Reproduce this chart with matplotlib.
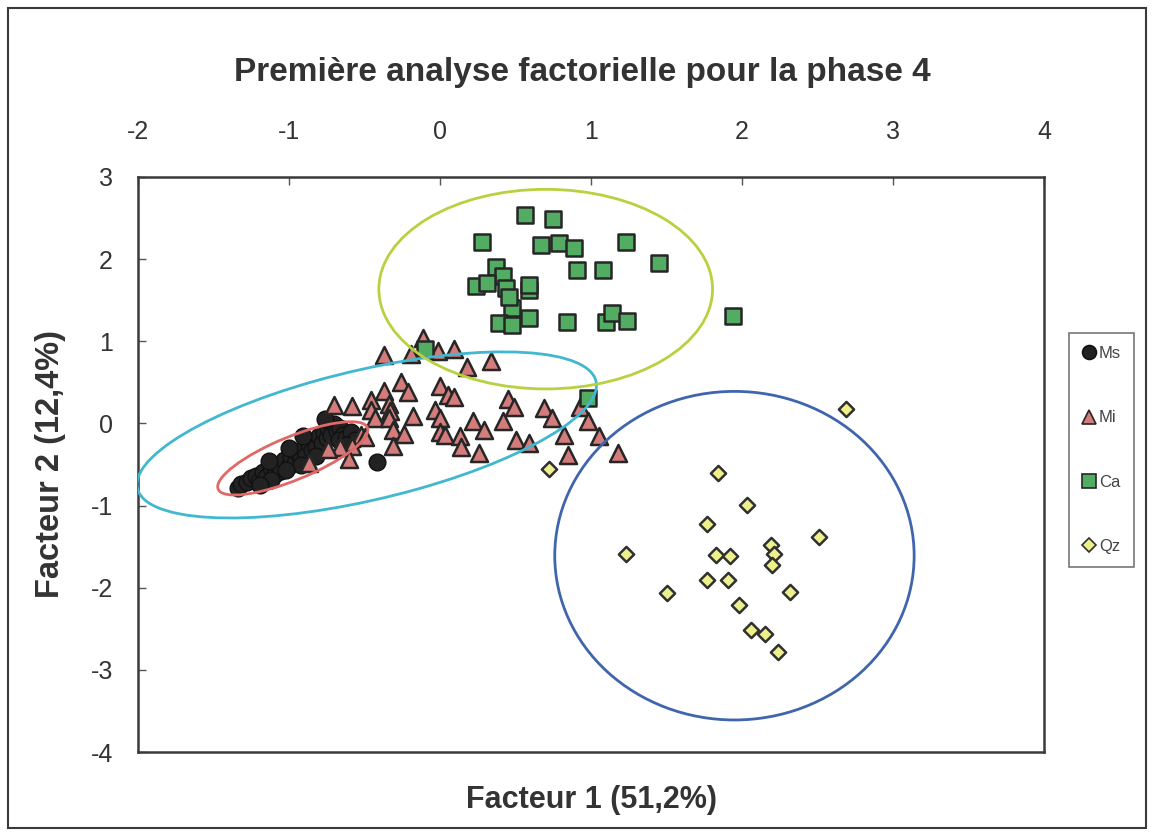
import matplotlib
matplotlib.use("Agg")
import matplotlib.pyplot as plt
from matplotlib.patches import Ellipse, Rectangle
from matplotlib.lines import Line2D

plt.rcParams['font.family'] = ['Liberation Sans', 'DejaVu Sans']

# Factor scores (Facteur 1, Facteur 2) per group
MS_X = [-1.34, -1.32, -1.28, -1.25, -1.22, -1.20, -1.17, -1.15, -1.12, -1.09, -1.07, -1.05,
        -1.03, -1.00, -0.99, -0.96, -0.95, -0.92, -0.91, -0.89, -0.87, -0.85, -0.83, -0.82,
        -0.80, -0.78, -0.77, -0.75, -0.74, -0.72, -0.70, -0.68, -0.76, -0.66, -0.64, -0.67,
        -0.62, -0.82, -0.92, -1.02, -1.12, -1.19, -0.59, -0.56, -0.62, -1.13, -1.00, -0.91, -0.42]
MS_Y = [-0.79, -0.74, -0.71, -0.67, -0.64, -0.70, -0.59, -0.65, -0.54, -0.62, -0.51, -0.58,
        -0.45, -0.52, -0.41, -0.48, -0.35, -0.42, -0.30, -0.39, -0.25, -0.32, -0.20, -0.29,
        -0.15, -0.24, -0.11, -0.18, -0.06, -0.14, -0.01, -0.09, 0.05, -0.06, -0.14, -0.20,
        -0.18, -0.40, -0.51, -0.57, -0.69, -0.75, -0.11, -0.20, -0.26, -0.46, -0.30, -0.15, -0.47]

MI_X = [-0.11, -0.37, -0.19, -0.01, 0.09, 0.18, 0.34, -0.26, -0.21, -0.37, 0.00, 0.05,
        -0.70, -0.58, -0.46, -0.46, -0.34, -0.33, -0.43, -0.34, -0.18, -0.03, 0.00, -0.31,
        -0.24, 0.00, 0.03, 0.13, -0.31, -0.52, -0.58, -0.66, -0.74, -0.87, -0.60, 0.09,
        0.45, 0.49, 0.69, 0.74, 0.22, 0.29, 0.42, 0.14, 0.26, 0.50, 0.59, 0.82, 0.85,
        0.93, 0.98, 1.05, 1.18, -0.50]
MI_Y = [1.04, 0.83, 0.85, 0.88, 0.91, 0.69, 0.76, 0.50, 0.38, 0.39, 0.46, 0.35,
        0.22, 0.21, 0.29, 0.16, 0.24, 0.15, 0.07, 0.07, 0.09, 0.16, 0.07, -0.08,
        -0.13, -0.11, -0.14, -0.15, -0.28, -0.14, -0.28, -0.29, -0.31, -0.48, -0.43, 0.32,
        0.30, 0.20, 0.19, 0.07, 0.03, -0.08, 0.03, -0.29, -0.36, -0.20, -0.24, -0.14, -0.39,
        0.20, 0.03, -0.15, -0.36, -0.17]

CA_X = [0.56, 0.75, 0.28, 0.67, 0.79, 0.89, 1.23, 1.45, 0.37, 0.42, 0.91, 1.08, 0.24, 0.31,
        0.44, 0.59, 0.59, 0.48, 0.46, 0.39, 0.48, 0.59, 0.84, 1.10, 1.14, 1.24, 1.94, -0.10, 0.98]
CA_Y = [2.54, 2.49, 2.21, 2.17, 2.20, 2.13, 2.21, 1.95, 1.91, 1.79, 1.87, 1.87, 1.67, 1.71,
        1.65, 1.63, 1.69, 1.41, 1.54, 1.22, 1.20, 1.28, 1.24, 1.24, 1.34, 1.25, 1.31, 0.91, 0.31]

QZ_X = [2.69, 0.72, 1.84, 2.03, 1.77, 2.51, 2.19, 2.21, 2.20, 1.23, 1.83, 1.92, 1.77, 1.91,
        2.32, 1.50, 1.98, 2.06, 2.15, 2.24]
QZ_Y = [0.18, -0.56, -0.60, -0.99, -1.22, -1.38, -1.48, -1.59, -1.72, -1.59, -1.60, -1.61,
        -1.91, -1.91, -2.05, -2.07, -2.21, -2.52, -2.56, -2.78]

GROUPS = ['Ms', 'Mi', 'Ca', 'Qz']

# Confidence ellipses: centre x, centre y, width, height, angle (data units)
ELL_CX = [-0.975, -0.485, 0.70, 1.95]
ELL_CY = [-0.425, -0.14, 1.635, -1.61]
ELL_W = [1.26, 3.34, 2.21, 2.38]
ELL_H = [0.445, 1.48, 2.43, 4.00]
ELL_ANGLE = [41.0, 27.4, 0.0, 0.0]

X_TICKS = [-2, -1, 0, 1, 2, 3, 4]
Y_TICKS = [-4, -3, -2, -1, 0, 1, 2, 3]

W, H = 1152, 834
fig = plt.figure(figsize=(W / 100, H / 100), dpi=100)
fig.patch.set_facecolor('white')

# outer chart border
fig.patches.append(Rectangle((8 / W, 6 / H), 1138 / W, 820 / H, transform=fig.transFigure,
                             fill=False, edgecolor='#3a3a3a', linewidth=1.5))

ax = fig.add_axes([138 / W, 1 - 752 / H, 906 / W, 575 / H])
ax.set_xlim(-2, 4)
ax.set_ylim(-4, 3)

styles = {
    'Ms': dict(marker='o', s=145, facecolor='#222222', edgecolor='#111111', linewidths=1.0),
    'Mi': dict(marker='^', s=150, facecolor='#d47b7b', edgecolor='#262626', linewidths=1.8),
    'Ca': dict(marker='s', s=120, facecolor='#52ad63', edgecolor='#262626', linewidths=1.8),
    'Qz': dict(marker='D', s=60, facecolor='#eef08c', edgecolor='#303030', linewidths=1.8),
}
data = {'Ms': (MS_X, MS_Y), 'Mi': (MI_X, MI_Y), 'Ca': (CA_X, CA_Y), 'Qz': (QZ_X, QZ_Y)}
for z, g in enumerate(GROUPS):
    xs, ys = data[g]
    ax.scatter(xs, ys, zorder=3 + z, **styles[g])

ell_colors = ['#e26868', '#41b8d0', '#b9d13e', '#3f65ad']
for cx, cy, w, h, a, c in zip(ELL_CX, ELL_CY, ELL_W, ELL_H, ELL_ANGLE, ell_colors):
    ax.add_patch(Ellipse((cx, cy), w, h, angle=a, fill=False, edgecolor=c,
                         linewidth=2.0, zorder=10))

for sp in ax.spines.values():
    sp.set_color('#3a3a3a')
    sp.set_linewidth(1.8)

ax.xaxis.tick_top()
ax.set_xticks(X_TICKS)
ax.set_yticks(Y_TICKS)
ax.set_xticklabels([str(t) for t in X_TICKS])
ax.set_yticklabels([str(t) for t in Y_TICKS])
ax.tick_params(axis='x', which='both', top=True, bottom=False, direction='in', length=6,
               width=1.0, color='#555555', pad=24, labelsize=18, labelcolor='#333333')
ax.tick_params(axis='y', which='both', left=True, right=False, direction='in', length=6,
               width=1.0, color='#555555', pad=18, labelsize=18, labelcolor='#333333')

ax.xaxis.set_label_position('bottom')
ax.set_xlabel('Facteur 1 (51,2%)', fontsize=22, fontweight='bold', color='#333333', labelpad=24)
ax.set_ylabel('Facteur 2 (12,4%)', fontsize=23.5, fontweight='bold', color='#333333', labelpad=18)

fig.text(582 / W, 1 - 72 / H, 'Première analyse factorielle pour la phase 4', ha='center',
         va='center', fontsize=24, fontweight='bold', color='#333333')

handles = [Line2D([], [], linestyle='none', marker=styles[g]['marker'],
                  markerfacecolor=styles[g]['facecolor'], markeredgecolor=styles[g]['edgecolor'],
                  markersize=10 if g != 'Qz' else 7.5, markeredgewidth=1.2) for g in GROUPS]
leg = fig.legend(handles, GROUPS, loc='upper left', bbox_to_anchor=(1069 / W, 1 - 333 / H),
                 frameon=True, fancybox=False, edgecolor='#555555',
                 labelspacing=2.95, handlelength=0.8, handletextpad=0.2, borderpad=0.8,
                 borderaxespad=0.0, prop={'family': ['Liberation Sans'], 'size': 12})
leg.get_frame().set_linewidth(1.2)
for t in leg.get_texts():
    t.set_color('#444444')

fig.savefig('out.png', dpi=100)
